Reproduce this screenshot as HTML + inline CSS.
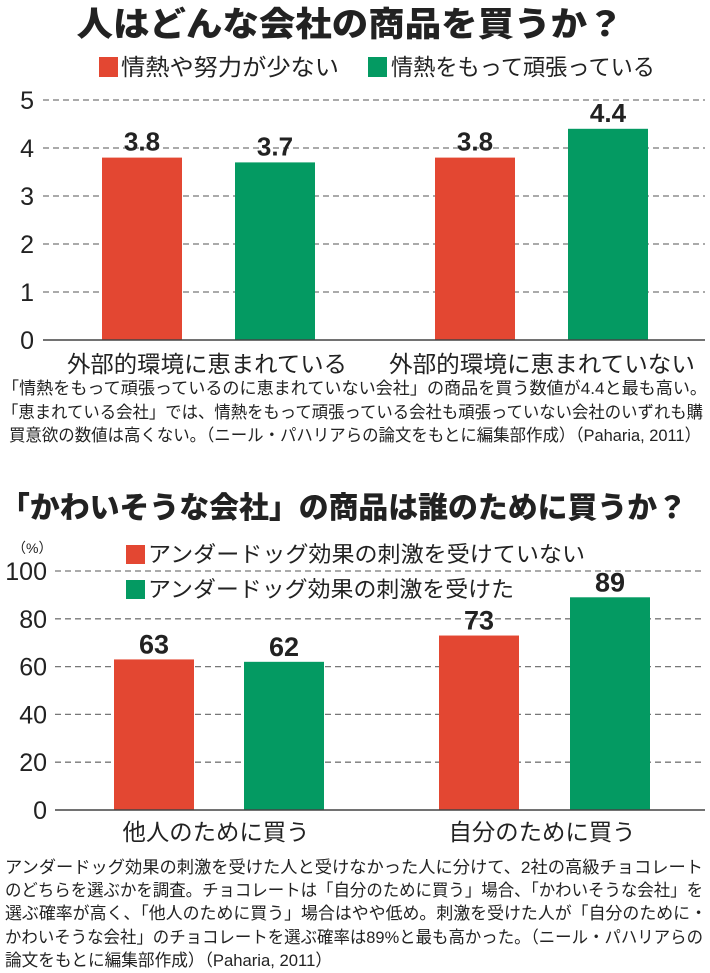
<!DOCTYPE html>
<html><head><meta charset="utf-8"><style>
html,body{margin:0;padding:0;background:#fff}
svg{display:block}
text{font-family:"Liberation Sans","Noto Sans CJK JP",sans-serif;fill:#222}
.t{font-weight:900}
.cap{font-size:17px}
.n{font-family:"Liberation Sans Narrow","Liberation Sans",sans-serif}
</style></head><body>
<svg id="s" width="710" height="973" viewBox="0 0 710 973">
<text class="t" x="350" y="36" font-size="34" text-anchor="middle" textLength="547" lengthAdjust="spacingAndGlyphs">人はどんな会社の商品を買うか？</text>
<rect x="99" y="57" width="19" height="20" fill="#e34732"/>
<text x="121" y="75" font-size="23" textLength="218" lengthAdjust="spacingAndGlyphs">情熱や努力が少ない</text>
<rect x="368" y="57" width="19" height="20" fill="#049a62"/>
<text x="391" y="75" font-size="23" textLength="264" lengthAdjust="spacingAndGlyphs">情熱をもって頑張っている</text>
<g id="c1"></g>
<text x="207" y="372" font-size="23" text-anchor="middle" textLength="280" lengthAdjust="spacingAndGlyphs">外部的環境に恵まれている</text>
<text x="542" y="372" font-size="23" text-anchor="middle" textLength="306" lengthAdjust="spacingAndGlyphs">外部的環境に恵まれていない</text>
<g class="cap">
<text x="2" y="394" textLength="705" lengthAdjust="spacingAndGlyphs">「情熱をもって頑張っているのに恵まれていない会社」の商品を買う数値が4.4と最も高い。</text>
<text x="2" y="418" textLength="701" lengthAdjust="spacingAndGlyphs">「恵まれている会社」では、情熱をもって頑張っている会社も頑張っていない会社のいずれも購</text>
<text x="9" y="441" textLength="692" lengthAdjust="spacingAndGlyphs">買意欲の数値は高くない。（ニール・パハリアらの論文をもとに編集部作成）（Paharia, 2011）</text>
</g>
<text class="t" x="0" y="518" font-size="30" textLength="687" lengthAdjust="spacingAndGlyphs">「かわいそうな会社」の商品は誰のために買うか？</text>
<text x="12" y="553" font-size="14">（%）</text>
<rect x="126" y="545" width="19" height="19" fill="#e34732"/>
<text x="148" y="562" font-size="22" textLength="437" lengthAdjust="spacingAndGlyphs">アンダードッグ効果の刺激を受けていない</text>
<rect x="126" y="580" width="19" height="19" fill="#049a62"/>
<text x="148" y="597" font-size="22" textLength="366" lengthAdjust="spacingAndGlyphs">アンダードッグ効果の刺激を受けた</text>
<g id="c2"></g>
<text x="216" y="840" font-size="23" text-anchor="middle" textLength="187" lengthAdjust="spacingAndGlyphs">他人のために買う</text>
<text x="542" y="840" font-size="23" text-anchor="middle" textLength="187" lengthAdjust="spacingAndGlyphs">自分のために買う</text>
<g class="cap">
<text x="5" y="873" textLength="698" lengthAdjust="spacingAndGlyphs">アンダードッグ効果の刺激を受けた人と受けなかった人に分けて、2社の高級チョコレート</text>
<text x="5" y="896" textLength="698" lengthAdjust="spacingAndGlyphs">のどちらを選ぶかを調査。チョコレートは「自分のために買う」場合、「かわいそうな会社」を</text>
<text x="5" y="919" textLength="702" lengthAdjust="spacingAndGlyphs">選ぶ確率が高く、「他人のために買う」場合はやや低め。刺激を受けた人が「自分のために・</text>
<text x="5" y="943" textLength="698" lengthAdjust="spacingAndGlyphs">かわいそうな会社」のチョコレートを選ぶ確率は89%と最も高かった。（ニール・パハリアらの</text>
<text x="5" y="966" textLength="327" lengthAdjust="spacingAndGlyphs">論文をもとに編集部作成）（Paharia, 2011）</text>
</g>
</svg>
<script>
const c1Ticks=[0,1,2,3,4,5];
const c1Red=[3.8,3.8];
const c1Green=[3.7,4.4];
const c1RedLabels=["3.8","3.8"];
const c1GreenLabels=["3.7","4.4"];
const c2Ticks=[0,20,40,60,80,100];
const c2Red=[63,73];
const c2Green=[62,89];
const c2RedLabels=["63","73"];
const c2GreenLabels=["62","89"];
const NS="http://www.w3.org/2000/svg";
function mk(p,tag,a){const e=document.createElementNS(NS,tag);for(const k in a)e.setAttribute(k,a[k]);p.appendChild(e);return e;}
function chart(g,ticks,red,green,rl,gl,cfg){
  const max=ticks[ticks.length-1];
  const y=v=>cfg.y0-(cfg.y0-cfg.yTop)*v/max;
  ticks.forEach((t,i)=>{
    const tx=mk(g,'text',{x:cfg.labX,y:y(t)+9,'font-size':25,'text-anchor':'end','class':'n'});
    tx.textContent=t;
    
    
    if(i>0){const l=mk(g,'line',{x1:cfg.ax,x2:705,y1:y(t),y2:y(t),stroke:'#777','stroke-width':1.3,'stroke-dasharray':'6,4'});
      
      }
  });
  const w=80;
  const series=[[red,rl,'#e34732',cfg.rx],[green,gl,'#049a62',cfg.gx]];
  series.forEach(([vals,labs,col,xs])=>{
    vals.forEach((v,i)=>{
      const r=mk(g,'rect',{x:xs[i],y:y(v),width:w,height:cfg.y0-y(v),fill:col});
      
      
      const t=mk(g,'text',{x:xs[i]+w/2,y:y(v)-cfg.lo,'font-size':cfg.fs,'font-weight':'bold','text-anchor':'middle','class':'n'});
      t.textContent=labs[i];
      
      
    });
  });
  const a=mk(g,'line',{x1:cfg.ax,x2:705,y1:cfg.y0,y2:cfg.y0,stroke:'#444','stroke-width':1.5});
  
  
}
chart(document.getElementById('c1'),c1Ticks,c1Red,c1Green,c1RedLabels,c1GreenLabels,
 {y0:340,yTop:100,labX:34,ax:43,rx:[102,435],gx:[235,568],lo:7,fs:26});
chart(document.getElementById('c2'),c2Ticks,c2Red,c2Green,c2RedLabels,c2GreenLabels,
 {y0:810,yTop:571,labX:47,ax:55,rx:[114,439],gx:[244,570],lo:6,fs:27});
</script>
</body></html>
